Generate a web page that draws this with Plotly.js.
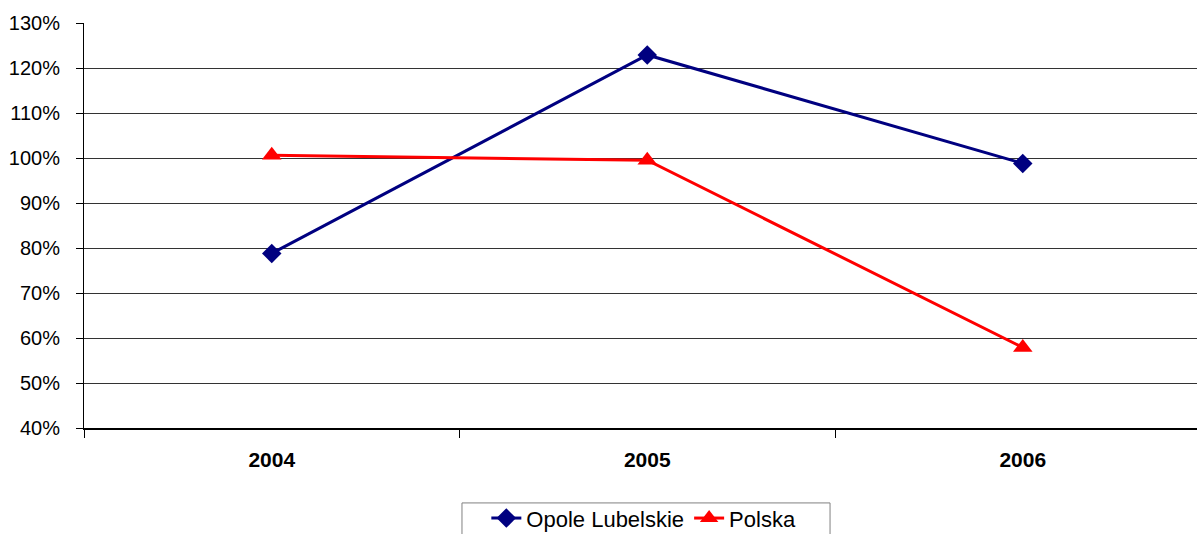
<!DOCTYPE html>
<html>
<head>
<meta charset="utf-8">
<script src="https://cdn.plot.ly/plotly-3.0.1.min.js"></script>
<style>html,body{margin:0;padding:0;background:#fff;}#chart{width:1199px;height:534px;}</style>
</head>
<body>
<div id="chart"></div>
<script>
const years = ['2004', '2005', '2006'];
const opole = [0.788, 1.229, 0.988];
const polska = [1.006, 0.995, 0.579];
const yTicks = [0.4, 0.5, 0.6, 0.7, 0.8, 0.9, 1.0, 1.1, 1.2, 1.3];
const yTickLabels = ['40%', '50%', '60%', '70%', '80%', '90%', '100%', '110%', '120%', '130%'];

const traces = [
  {x: years, y: opole, name: 'Opole Lubelskie', type: 'scatter', mode: 'lines+markers',
   line: {color: '#000080', width: 3}, marker: {symbol: 'diamond', size: 15, color: '#000080'}},
  {x: years, y: polska, name: 'Polska', type: 'scatter', mode: 'lines+markers',
   line: {color: '#FF0000', width: 3}, marker: {symbol: 'triangle-up', size: 17, color: '#FF0000'}}
];

const layout = {
  width: 1199, height: 534,
  margin: {l: 84, r: 2, t: 23, b: 106, autoexpand: false},
  paper_bgcolor: '#fff', plot_bgcolor: '#fff',
  font: {family: 'Liberation Sans, Arial, sans-serif', color: '#000'},
  showlegend: true,
  legend: {orientation: 'h', x: 0.503, xanchor: 'center', y: -0.171, yanchor: 'top',
    borderwidth: 0, bgcolor: 'rgba(0,0,0,0)', font: {size: 22}, tracegroupgap: 0},
  shapes: [{type: 'rect', xref: 'paper', yref: 'paper', x0: 0.3396, x1: 0.6703, y0: -0.185, y1: -0.32,
    line: {color: '#808080', width: 1}, fillcolor: 'rgba(0,0,0,0)', layer: 'below'}],
  xaxis: {type: 'category', range: [-0.5, 2.464], tickson: 'boundaries', ticks: 'outside', ticklen: 8,
    tickcolor: '#000', showline: true, linecolor: '#000', linewidth: 2, showgrid: false,
    tickfont: {size: 21, family: 'Liberation Sans, Arial, sans-serif', weight: 'bold'}, ticklabelstandoff: 12,
    zeroline: false, fixedrange: true},
  yaxis: {range: [0.4, 1.3], tickvals: yTicks, ticktext: yTickLabels, ticks: 'outside', ticklen: 7,
    tickcolor: '#000', showline: true, linecolor: '#000', linewidth: 1, showgrid: true, gridcolor: '#333',
    gridwidth: 1, tickfont: {size: 20}, ticklabelstandoff: 12, zeroline: false, fixedrange: true}
};

Plotly.newPlot('chart', traces, layout, {displayModeBar: false, staticPlot: true});
</script>
</body>
</html>
